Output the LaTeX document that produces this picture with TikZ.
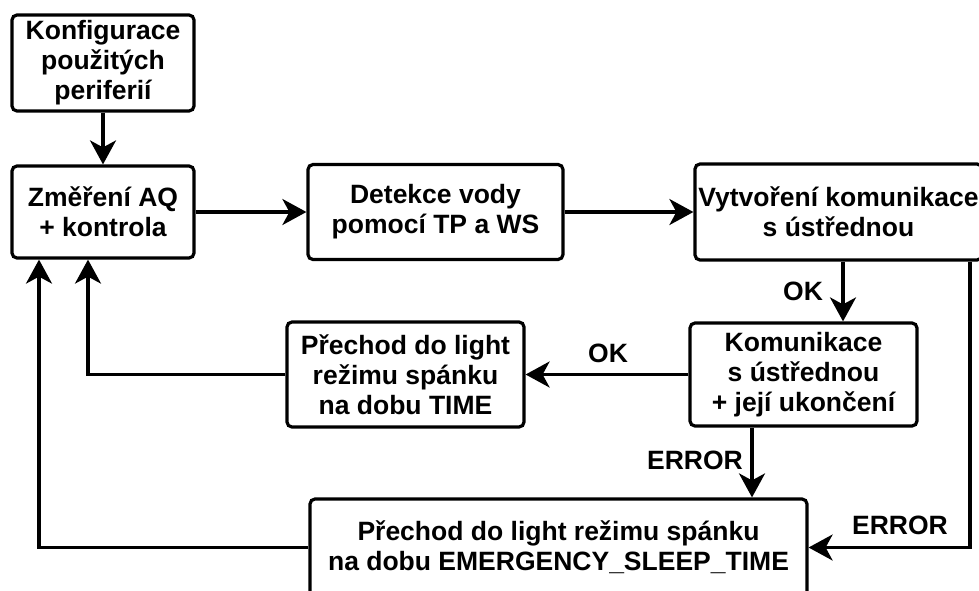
\documentclass[tikz,border=0pt]{standalone}
\usepackage{fontspec}
\setmainfont{Liberation Sans}
\usetikzlibrary{arrows.meta}
\begin{document}
\begin{tikzpicture}[x=1pt,y=-1pt,
  box/.style={draw, line width=3.2pt, rounded corners=5pt, align=center,
    font=\bfseries\fontsize{26.5}{30}\selectfont, inner sep=0pt},
  conn/.style={line width=3.2pt, -{Stealth[length=24pt,width=26pt,inset=7pt]}},
  lbl/.style={font=\bfseries\fontsize{26.5}{30}\selectfont, inner sep=0pt}]
\useasboundingbox (0,0) rectangle (979,590);
\node[box, minimum width=182pt, minimum height=96pt] (konf) at (103,63) {Konfigurace\\použitých\\periferií};
\node[box, minimum width=182pt, minimum height=92pt] (zmer) at (103,212) {Změření AQ\\+ kontrola};
\node[box, minimum width=255pt, minimum height=95pt] (det) at (435.5,212) {Detekce vody\\pomocí TP a WS};
\node[box, minimum width=287pt, minimum height=96pt] (vyt) at (838.5,212) {Vytvoření komunikace\\s ústřednou};
\node[box, minimum width=227pt, minimum height=103pt] (kom) at (803.5,374.5) {Komunikace\\s ústřednou\\+ její ukončení};
\node[box, minimum width=237pt, minimum height=105pt] (pre) at (405.5,374.5) {Přechod do light\\režimu spánku\\na dobu TIME};
\node[box, minimum width=497pt, minimum height=97pt] (emer) at (558.5,547.5) {Přechod do light režimu spánku\\na dobu EMERGENCY\_SLEEP\_TIME};
\coordinate (c1) at (843,0);
\coordinate (c2) at (970,0);
\coordinate (c3) at (88,0);
\coordinate (c4) at (752,0);
\coordinate (c5) at (39,0);
\draw[conn] (konf) -- (zmer);
\draw[conn] (zmer) -- (det);
\draw[conn] (det) -- (vyt);
\draw[conn] (vyt.south -| c1) -- (kom.north -| c1);
\draw[conn] (vyt.south -| c2) |- (emer.east);
\draw[conn] (kom) -- (pre);
\draw[conn] (pre.west) -| (c3 |- zmer.south);
\draw[conn] (kom.south -| c4) -- (emer.north -| c4);
\draw[conn] (emer.west) -| (c5 |- zmer.south);
\node[lbl] (ok1) at (803,291) {OK};
\node[lbl] (ok2) at (608,353) {OK};
\node[lbl] (err1) at (695,460) {ERROR};
\node[lbl] (err2) at (900,525) {ERROR};
\end{tikzpicture}
\end{document}
